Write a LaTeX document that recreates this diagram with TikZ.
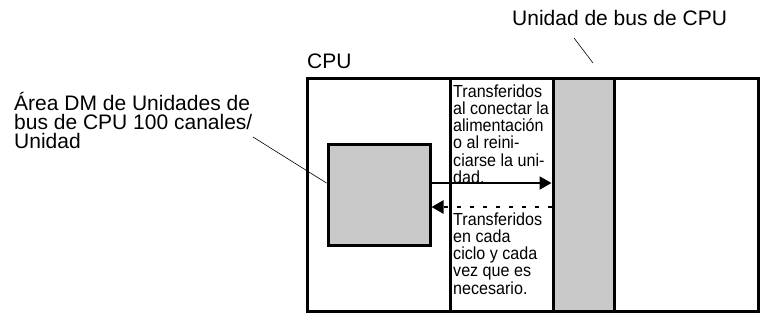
\documentclass[tikz,border=0pt]{standalone}
\usepackage{fontspec}
\setmainfont{Liberation Sans}
\newfontfamily\narrowfont[FakeStretch=0.92]{Liberation Sans}
\usetikzlibrary{arrows.meta}
\definecolor{unitgray}{HTML}{C8C8C8}

\begin{document}
\begin{tikzpicture}[x=1pt,y=-1pt,
  frame/.style={draw,line width=3pt},
  block/.style={frame,fill=unitgray,inner sep=0pt},
  big/.style={font=\fontsize{21}{19}\selectfont,inner sep=0pt,align=left,anchor=base west},
  small/.style={font=\narrowfont\fontsize{17.5}{17.3}\selectfont,inner sep=0pt,align=left,anchor=north west},
  flow/.style={line width=2pt,-{Triangle[length=12pt,width=13pt]}},
  leader/.style={line width=0.6pt}]
\useasboundingbox (0,0) rectangle (767,327);
% CPU and its parts
\draw[frame] (307,78) rectangle (758,311);
\draw[frame] (450,78) -- (450,311);
\node[block,minimum width=61pt,minimum height=233pt] (bus) at (583.5,194.5) {};
\node[block,minimum width=102pt,minimum height=101pt] (dm) at (379,194.5) {};
% labels
\node[big] (cpu) at (307,68) {CPU};
\node[big] (buslabel) at (512,25) {Unidad de bus de CPU};
\node[big,anchor=north west] (dmlabel) at (14,92.2) {Área DM de Unidades de\\bus de CPU 100 canales/\\Unidad};
\node[small] (upper) at (453,84.2) {Transferidos\\al conectar la\\alimentación\\o al reini-\\ciarse la uni-\\dad.};
\node[small] (lower) at (453,212.2) {Transferidos\\en cada\\ciclo y cada\\vez que es\\necesario.};
\coordinate (dmtip) at (253,137);
\coordinate (bustop) at (574,38);
\coordinate (busend) at (593,63);
% transfers
\draw[flow] ([yshift=11.5pt]dm.east) -- ([yshift=11.5pt]dm.east -| bus.west);
\draw[flow,dash pattern=on 4pt off 9pt,line width=2.5pt] ([yshift=-12.5pt]dm.east -| bus.west) -- ([yshift=-12.5pt]dm.east);
% leaders
\draw[leader] (dmtip) -- ([yshift=11.5pt]dm.west);
\draw[leader] (bustop) -- (busend);
\end{tikzpicture}
\end{document}
